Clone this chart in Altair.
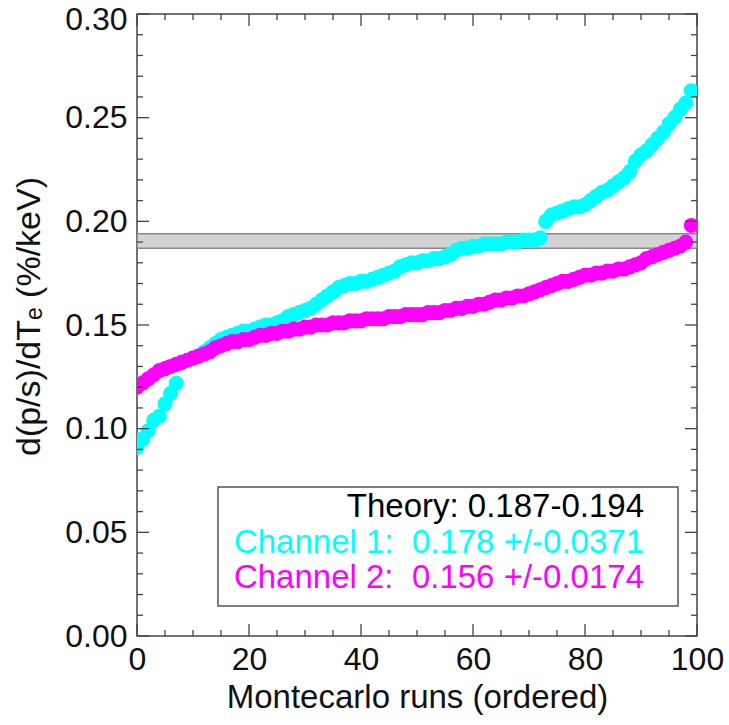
import altair as alt
import pandas as pd

# ---------------- data ----------------
runs = list(range(100))
channel1 = [
    0.091, 0.095, 0.099, 0.104, 0.106, 0.112, 0.117, 0.122, 0.132, 0.133,
    0.134, 0.135, 0.137, 0.139, 0.141, 0.143, 0.144, 0.145, 0.146, 0.147,
    0.147, 0.148, 0.149, 0.150, 0.150, 0.151, 0.152, 0.154, 0.155, 0.156,
    0.157, 0.158, 0.160, 0.162, 0.164, 0.166, 0.168, 0.169, 0.170, 0.170,
    0.171, 0.171, 0.172, 0.173, 0.174, 0.175, 0.176, 0.178, 0.179, 0.180,
    0.180, 0.181, 0.181, 0.182, 0.182, 0.183, 0.184, 0.186, 0.187, 0.187,
    0.188, 0.188, 0.189, 0.189, 0.189, 0.189, 0.190, 0.190, 0.190, 0.191,
    0.191, 0.191, 0.192, 0.200, 0.203, 0.204, 0.205, 0.206, 0.207, 0.207,
    0.208, 0.210, 0.212, 0.214, 0.215, 0.217, 0.219, 0.221, 0.224, 0.229,
    0.232, 0.234, 0.237, 0.240, 0.243, 0.247, 0.250, 0.254, 0.257, 0.263,
]
channel2 = [
    0.120, 0.122, 0.124, 0.126, 0.128, 0.129, 0.130, 0.131, 0.132, 0.133,
    0.134, 0.135, 0.136, 0.137, 0.139, 0.140, 0.141, 0.142, 0.142, 0.143,
    0.143, 0.144, 0.145, 0.145, 0.146, 0.146, 0.147, 0.147, 0.148, 0.148,
    0.149, 0.149, 0.150, 0.150, 0.150, 0.151, 0.151, 0.151, 0.152, 0.152,
    0.152, 0.153, 0.153, 0.153, 0.153, 0.154, 0.154, 0.154, 0.155, 0.155,
    0.155, 0.155, 0.156, 0.156, 0.156, 0.157, 0.157, 0.158, 0.158, 0.159,
    0.159, 0.160, 0.160, 0.161, 0.162, 0.162, 0.163, 0.163, 0.164, 0.164,
    0.165, 0.166, 0.167, 0.168, 0.169, 0.170, 0.171, 0.171, 0.172, 0.173,
    0.174, 0.174, 0.175, 0.175, 0.176, 0.176, 0.177, 0.177, 0.178, 0.179,
    0.180, 0.182, 0.183, 0.184, 0.185, 0.186, 0.187, 0.188, 0.190, 0.198,
]
theory_range = [0.187, 0.194]
legend_lines = [
    "Theory: 0.187-0.194",
    "Channel 1:\u00a0 0.178 +/-0.0371",
    "Channel 2:\u00a0 0.156 +/-0.0174",
]
legend_colors = ["#000000", "#00ffff", "#ff00ff"]
x_major = [0, 20, 40, 60, 80, 100]
x_minor = [v for v in range(0, 101, 5) if v % 20 != 0]
y_major = [0.0, 0.05, 0.10, 0.15, 0.20, 0.25, 0.30]
y_minor = [round(v * 0.01, 2) for v in range(0, 31) if v % 5 != 0]

# ---------------- layout ----------------
W, H = 560, 622
FONT = "Liberation Sans"
LFS = 32   # tick labels
TFS = 33   # x title
YTFS = 34  # y title
GFS = 33   # legend text
MAJ, MIN = 12, 6
FRAME = "#444444"

df1 = pd.DataFrame({"run": runs, "val": channel1})
df2 = pd.DataFrame({"run": runs, "val": channel2})
band = pd.DataFrame({"x0": [0], "x1": [100], "lo": [theory_range[0]], "hi": [theory_range[1]]})

xs = alt.Scale(domain=[0, 100], nice=False, zero=False)
ys = alt.Scale(domain=[0, 0.30], nice=False, zero=False)

xaxis = alt.Axis(values=x_major, ticks=False, domain=False, grid=False,
                 labelFont=FONT, labelFontSize=LFS, labelColor="#111111",
                 labelPadding=8, labelFlush=False, labelOverlap=False,
                 title="Montecarlo runs (ordered)", titleFont=FONT,
                 titleFontSize=TFS, titleFontWeight="normal", titleColor="#111111",
                 titleBaseline="middle", titleY=61, titleX=W / 2)
yaxis = alt.Axis(values=y_major, format=".2f", ticks=False, domain=False, grid=False,
                 labelFont=FONT, labelFontSize=LFS, labelColor="#111111",
                 labelPadding=10, labelFlush=False, labelOverlap=False,
                 labelOffset={"condition": {"test": "datum.value >= 0.299", "value": 5},
                              "value": 0},
                 title="d(p/s)/dT\u2091 (%/keV)", titleFont=FONT,
                 titleFontSize=YTFS, titleFontWeight="normal", titleColor="#111111",
                 titleAngle=-90, titleBaseline="middle", titleAlign="center",
                 titleX=-108, titleY=302)

band_layer = alt.Chart(band).mark_rect(fill="#d3d3d3", stroke="#8a8a8a",
                                       strokeWidth=1.5, clip=True).encode(
    x=alt.X("x0:Q", scale=xs, axis=xaxis),
    x2="x1:Q",
    y=alt.Y("lo:Q", scale=ys, axis=yaxis),
    y2="hi:Q",
)

c1 = alt.Chart(df1).mark_circle(size=230, color="#00ffff", opacity=1, clip=True).encode(
    x=alt.X("run:Q", scale=xs), y=alt.Y("val:Q", scale=ys))
c2 = alt.Chart(df2).mark_circle(size=230, color="#ff00ff", opacity=1, clip=True).encode(
    x=alt.X("run:Q", scale=xs), y=alt.Y("val:Q", scale=ys))

def yticks(vals, length):
    d = pd.DataFrame({"v": vals})
    left = alt.Chart(d).mark_rule(color=FRAME, strokeWidth=1.3).encode(
        y=alt.Y("v:Q", scale=ys), x=alt.value(0), x2=alt.value(length))
    right = alt.Chart(d).mark_rule(color=FRAME, strokeWidth=1.3).encode(
        y=alt.Y("v:Q", scale=ys), x=alt.value(W), x2=alt.value(W - length))
    return [left, right]

def xticks(vals, length):
    d = pd.DataFrame({"v": vals})
    bottom = alt.Chart(d).mark_rule(color=FRAME, strokeWidth=1.3).encode(
        x=alt.X("v:Q", scale=xs), y=alt.value(H), y2=alt.value(H - length))
    top = alt.Chart(d).mark_rule(color=FRAME, strokeWidth=1.3).encode(
        x=alt.X("v:Q", scale=xs), y=alt.value(0), y2=alt.value(length))
    return [bottom, top]

tick_layers = (yticks(y_major, MAJ) + yticks(y_minor, MIN)
               + xticks(x_major, MAJ) + xticks(x_minor, MIN))

# legend box
box_df = pd.DataFrame({"k": [0]})
legend_box = alt.Chart(box_df).mark_rect(fill="white", stroke="#555555",
                                         strokeWidth=1.5).encode(
    x=alt.value(81), x2=alt.value(541), y=alt.value(473), y2=alt.value(592))

legend_ypix = [503, 539, 574]
legend_layers = []
for txt, col, yp in zip(legend_lines, legend_colors, legend_ypix):
    legend_layers.append(
        alt.Chart(pd.DataFrame({"label": [txt]})).mark_text(
            align="right", baseline="alphabetic", font=FONT, fontSize=GFS, color=col,
        ).encode(x=alt.value(507), y=alt.value(yp), text="label:N")
    )

chart = alt.layer(
    band_layer, c1, c2, *tick_layers, legend_box, *legend_layers
).properties(
    width=W, height=H,
    autosize=alt.AutoSizeParams(type="none"),
    padding={"left": 137, "top": 14, "right": 32, "bottom": 89},
    background="white",
).configure_view(stroke=FRAME, strokeWidth=1.5)

chart.save("out.html", embed_options={"renderer": "svg", "actions": False})
